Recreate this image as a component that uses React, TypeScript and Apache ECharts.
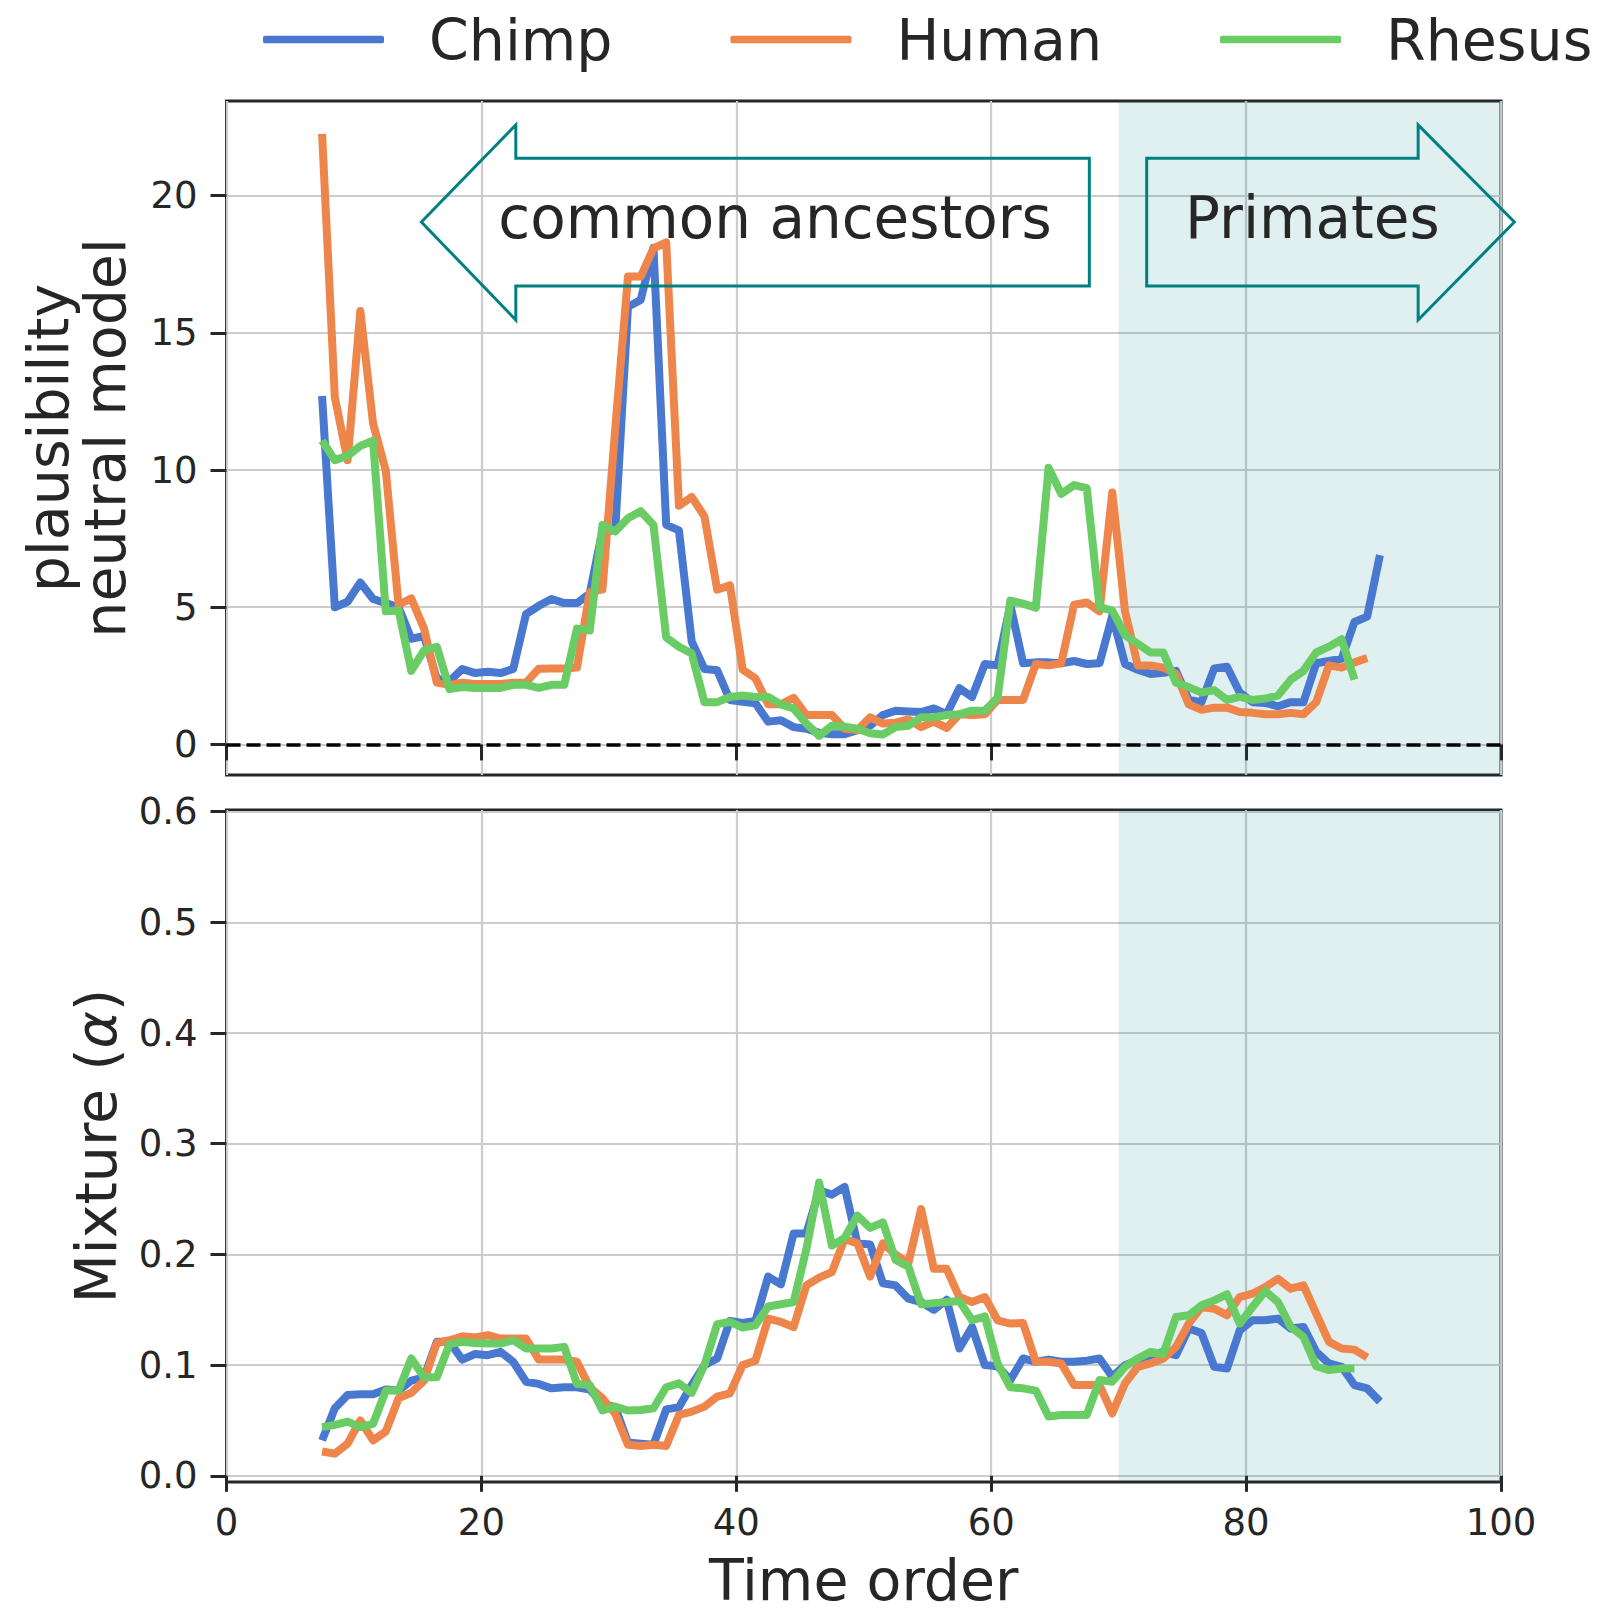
import React, { useEffect, useRef } from "react";
import * as echarts from "echarts";

// ---- data -------------------------------------------------------------
const SPECIES = ["Chimp", "Human", "Rhesus"];
const COLORS = ["#4878D0", "#EE854A", "#6ACC64"];
const FIRST_TIME = 7.5; // time-order position of first window, one window per unit

const chimpPlausibility = [
  12.7, 5.0, 5.2, 5.9, 5.3, 5.15, 5.0, 3.85, 3.95, 2.4,
  2.3, 2.75, 2.6, 2.65, 2.6, 2.75, 4.75, 5.05, 5.3, 5.15,
  5.15, 5.5, 7.8, 7.8, 15.95, 16.2, 18.1, 8.0, 7.8, 3.75,
  2.75, 2.7, 1.62, 1.55, 1.5, 0.83, 0.88, 0.63, 0.57, 0.42,
  0.37, 0.37, 0.52, 0.68, 1.07, 1.23, 1.2, 1.18, 1.31, 1.1,
  2.05, 1.73, 2.93, 2.88, 5.09, 2.96, 2.99, 2.99, 2.96, 3.04,
  2.93, 2.96, 4.69, 2.93, 2.72, 2.57, 2.61, 2.68, 1.62, 1.54,
  2.77, 2.83, 1.89, 1.54, 1.51, 1.39, 1.54, 1.54, 2.96, 3.04,
  3.12, 4.46, 4.66, 6.9,
];
const humanPlausibility = [
  22.25, 12.65, 10.36, 15.8, 11.7, 9.97, 5.09, 5.32, 4.22, 2.25,
  2.17, 2.25, 2.2, 2.2, 2.2, 2.25, 2.25, 2.76, 2.77, 2.77,
  2.8, 5.55, 5.65, 11.5, 17.05, 17.05, 18.08, 18.3, 8.7, 9.02,
  8.31, 5.64, 5.8, 2.72, 2.41, 1.46, 1.46, 1.7, 1.07, 1.07,
  1.07, 0.57, 0.52, 0.99, 0.76, 0.79, 0.91, 0.63, 0.83, 0.6,
  1.1, 1.07, 1.1, 1.62, 1.62, 1.62, 2.93, 2.88, 2.96, 5.09,
  5.17, 4.85, 9.18, 4.85, 2.88, 2.88, 2.8, 2.57, 1.46, 1.26,
  1.34, 1.34, 1.18, 1.15, 1.1, 1.1, 1.15, 1.1, 1.54, 2.88,
  2.8, 2.99, 3.15,
];
const rhesusPlausibility = [
  11.07, 10.36, 10.52, 10.88, 11.07, 4.85, 4.88, 2.68, 3.43, 3.56,
  2.02, 2.09, 2.06, 2.06, 2.06, 2.17, 2.17, 2.06, 2.17, 2.17,
  4.22, 4.15, 8.0, 7.76, 8.24, 8.5, 8.0, 3.9, 3.56, 3.31,
  1.54, 1.54, 1.73, 1.78, 1.73, 1.73, 1.46, 1.31, 0.76, 0.31,
  0.68, 0.65, 0.57, 0.41, 0.36, 0.63, 0.68, 0.99, 0.99, 1.07,
  1.1, 1.23, 1.23, 1.7, 5.24, 5.13, 4.98, 10.08, 9.13, 9.45,
  9.34, 5.0, 4.88, 3.98, 3.67, 3.35, 3.35, 2.25, 2.09, 1.89,
  1.98, 1.62, 1.73, 1.62, 1.67, 1.78, 2.36, 2.68, 3.35, 3.56,
  3.83, 2.36,
];

const chimpMixture = [
  0.032, 0.061, 0.073, 0.0736, 0.0736, 0.078, 0.077, 0.086, 0.089, 0.121,
  0.121, 0.105, 0.11, 0.109, 0.112, 0.103, 0.085, 0.083, 0.079, 0.08,
  0.08, 0.078, 0.065, 0.062, 0.03, 0.029, 0.028, 0.06, 0.062, 0.082,
  0.1, 0.106, 0.14, 0.138, 0.14, 0.18, 0.173, 0.219, 0.219, 0.258,
  0.254, 0.261, 0.21, 0.209, 0.174, 0.172, 0.16, 0.157, 0.15, 0.159,
  0.115, 0.1345, 0.1, 0.099, 0.0865, 0.106, 0.103, 0.105, 0.103, 0.103,
  0.104, 0.106, 0.0895, 0.1, 0.1045, 0.109, 0.112, 0.109, 0.133, 0.129,
  0.0985, 0.097, 0.1315, 0.1405, 0.1405, 0.142, 0.133, 0.1345, 0.112, 0.1015,
  0.0985, 0.082, 0.079, 0.067,
];
const humanMixture = [
  0.022, 0.02, 0.029, 0.05, 0.032, 0.04, 0.07, 0.075, 0.086, 0.12,
  0.1225, 0.126, 0.125, 0.127, 0.124, 0.124, 0.124, 0.105, 0.105, 0.105,
  0.103, 0.08, 0.07, 0.056, 0.028, 0.027, 0.028, 0.027, 0.055, 0.058,
  0.0625, 0.0715, 0.0745, 0.1, 0.104, 0.142, 0.139, 0.1345, 0.172, 0.179,
  0.184, 0.214, 0.21, 0.18, 0.21, 0.2, 0.192, 0.241, 0.187, 0.187,
  0.1615, 0.157, 0.1615, 0.1405, 0.1375, 0.138, 0.103, 0.103, 0.1015, 0.082,
  0.082, 0.082, 0.0565, 0.0835, 0.0985, 0.1015, 0.106, 0.1165, 0.1375, 0.1525,
  0.151, 0.145, 0.1615, 0.1645, 0.1705, 0.178, 0.169, 0.172, 0.1465, 0.121,
  0.115, 0.114, 0.107,
];
const rhesusMixture = [
  0.044, 0.046, 0.049, 0.044, 0.047, 0.077, 0.077, 0.106, 0.089, 0.089,
  0.119, 0.121, 0.12, 0.1195, 0.1195, 0.1225, 0.115, 0.115, 0.115, 0.1165,
  0.083, 0.082, 0.059, 0.0625, 0.059, 0.0595, 0.061, 0.08, 0.0835, 0.075,
  0.1, 0.137, 0.139, 0.134, 0.136, 0.153, 0.155, 0.157, 0.205, 0.265,
  0.208, 0.215, 0.235, 0.224, 0.229, 0.195, 0.189, 0.155, 0.156, 0.157,
  0.158, 0.1405, 0.144, 0.1015, 0.08, 0.079, 0.077, 0.0535, 0.055, 0.055,
  0.055, 0.0865, 0.085, 0.0985, 0.106, 0.112, 0.11, 0.1435, 0.145, 0.154,
  0.1585, 0.164, 0.1375, 0.1525, 0.167, 0.157, 0.1345, 0.1255, 0.099, 0.0955,
  0.097, 0.097,
];

const X_TICKS = [0, 20, 40, 60, 80, 100];
const PLAUS_TICKS = [0, 5, 10, 15, 20];
const MIX_TICKS = [0, 0.1, 0.2, 0.3, 0.4, 0.5, 0.6];
const PRIMATE_SPAN = [70, 100];

// annotation arrows (data coordinates of the top panel)
const ARROW_LABELS = ["common ancestors", "Primates"];
const ARROW_LABEL_POS = [
  [43.04, 19.2],
  [85.2, 19.2],
];
const ARROW_OUTLINES = [
  [[15.29, 19.04], [22.7, 22.58], [22.7, 21.36], [67.7, 21.36], [67.7, 16.71], [22.7, 16.71], [22.7, 15.47]],
  [[72.2, 21.36], [93.5, 21.36], [93.5, 22.58], [101.05, 19.04], [93.5, 15.47], [93.5, 16.71], [72.2, 16.71]],
];

// ---- chart ------------------------------------------------------------
const FONT = "DejaVu Sans";
const INK = "#262626";

function pairs(vals: number[]) {
  return vals.map((v, i) => [FIRST_TIME + i, v]);
}

export default function App() {
  const ref = useRef<HTMLDivElement>(null);

  useEffect(() => {
    document.body.style.margin = "0";
    document.body.style.overflow = "hidden";
    const chart = echarts.init(ref.current!, undefined, { renderer: "svg" });

    const plaus = [chimpPlausibility, humanPlausibility, rhesusPlausibility];
    const mix = [chimpMixture, humanMixture, rhesusMixture];

    const tick = { show: true, inside: false, length: 16, lineStyle: { color: INK, width: 3 } };
    const grid = { color: "#cccccc", width: 2.2 };

    const lineSeries = (gi: number, vals: number[][]) =>
      vals.map((v, k) => ({
        type: "line",
        name: SPECIES[k],
        xAxisIndex: gi,
        yAxisIndex: gi,
        data: pairs(v),
        showSymbol: false,
        symbol: "none",
        color: COLORS[k],
        lineStyle: { color: COLORS[k], width: 8, join: "round" },
        emphasis: { disabled: true },
        z: 3,
      }));

    const helper = (gi: number, withZero: boolean) => ({
      type: "line",
      name: "helper" + gi,
      xAxisIndex: gi,
      yAxisIndex: gi,
      data: [],
      silent: true,
      z: 2,
      markArea: {
        silent: true,
        itemStyle: { color: "rgba(0,128,128,0.12)" },
        data: [[{ xAxis: PRIMATE_SPAN[0] }, { xAxis: PRIMATE_SPAN[1] }]],
      },
      markLine: withZero
        ? {
            silent: true,
            symbol: ["none", "none"],
            label: { show: false },
            lineStyle: { color: "#000", type: [14, 6], width: 3.5 },
            data: [{ yAxis: 0 }],
          }
        : undefined,
    });

    const option: any = {
      animation: false,
      backgroundColor: "#ffffff",
      textStyle: { fontFamily: FONT },
      legend: {
        data: SPECIES,
        left: 258,
        top: 6,
        icon: "roundRect",
        itemWidth: 121,
        itemHeight: 7.5,
        itemGap: 118,
        textStyle: { fontSize: 57, color: INK, fontFamily: FONT, padding: [0, 0, 0, 40] },
      },
      grid: [
        { left: 226.5, top: 101, width: 1274.5, height: 674, show: true, borderColor: INK, borderWidth: 3, backgroundColor: "transparent" },
        { left: 226.5, top: 810, width: 1274.5, height: 672, show: true, borderColor: INK, borderWidth: 3, backgroundColor: "transparent" },
      ],
      xAxis: [0, 1].map((gi) => ({
        gridIndex: gi,
        type: "value",
        min: X_TICKS[0],
        max: X_TICKS[X_TICKS.length - 1],
        interval: 20,
        axisLine: { show: false },
        axisTick: tick,
        axisLabel: gi === 0 ? { show: false } : { show: true, fontSize: 37, color: INK, margin: 22, fontFamily: FONT },
        splitLine: { show: true, lineStyle: grid },
        name: gi === 1 ? "Time order" : "",
        nameLocation: "middle",
        nameGap: 73,
        nameTextStyle: { fontSize: 57, lineHeight: 50, color: INK, fontFamily: FONT },
      })),
      yAxis: [
        {
          gridIndex: 0,
          type: "value",
          min: -1.115,
          max: 23.45,
          axisLine: { show: false },
          axisTick: { ...tick, customValues: PLAUS_TICKS },
          axisLabel: { show: true, fontSize: 37, color: INK, margin: 29, fontFamily: FONT, customValues: PLAUS_TICKS },
          splitLine: { show: true, lineStyle: grid },
          name: "plausibility\nneutral model",
          nameLocation: "middle",
          nameRotate: 90,
          nameGap: 93,
          nameTextStyle: { fontSize: 57, lineHeight: 57, color: INK, fontFamily: FONT, align: "center" },
        },
        {
          gridIndex: 1,
          type: "value",
          min: -0.0056,
          max: 0.6015,
          axisLine: { show: false },
          axisTick: { ...tick, customValues: MIX_TICKS },
          axisLabel: {
            show: true,
            fontSize: 37,
            color: INK,
            margin: 29,
            fontFamily: FONT,
            customValues: MIX_TICKS,
            formatter: (v: number) => v.toFixed(1),
          },
          splitLine: { show: true, lineStyle: grid },
          name: "Mixture ({a|α})",
          nameLocation: "middle",
          nameRotate: 90,
          nameGap: 102,
          nameTextStyle: {
            fontSize: 57,
            color: INK,
            fontFamily: FONT,
            rich: { a: { fontSize: 57, fontStyle: "italic", fontFamily: FONT, color: INK } },
          },
        },
      ],
      series: [
        helper(0, true),
        ...lineSeries(0, plaus),
        helper(1, false),
        ...lineSeries(1, mix),
        {
          type: "custom",
          name: "arrows",
          xAxisIndex: 0,
          yAxisIndex: 0,
          clip: false,
          silent: true,
          z: 10,
          data: ARROW_LABEL_POS,
          encode: { x: 0, y: 1 },
          renderItem: (params: any, api: any) => {
            const i = params.dataIndex;
            const pts = ARROW_OUTLINES[i].map((p) => api.coord(p));
            const c = api.coord(ARROW_LABEL_POS[i]);
            return {
              type: "group",
              children: [
                {
                  type: "polygon",
                  shape: { points: pts },
                  style: { fill: "none", stroke: "#008080", lineWidth: 3 },
                },
                {
                  type: "text",
                  x: c[0],
                  y: c[1],
                  style: {
                    text: ARROW_LABELS[i],
                    fontSize: 58,
                    fontFamily: FONT,
                    fill: INK,
                    align: "center",
                    verticalAlign: "middle",
                  },
                },
              ],
            };
          },
        },
      ],
    };

    chart.setOption(option);
    return () => chart.dispose();
  }, []);

  return <div ref={ref} style={{ width: 1609, height: 1614 }} />;
}
